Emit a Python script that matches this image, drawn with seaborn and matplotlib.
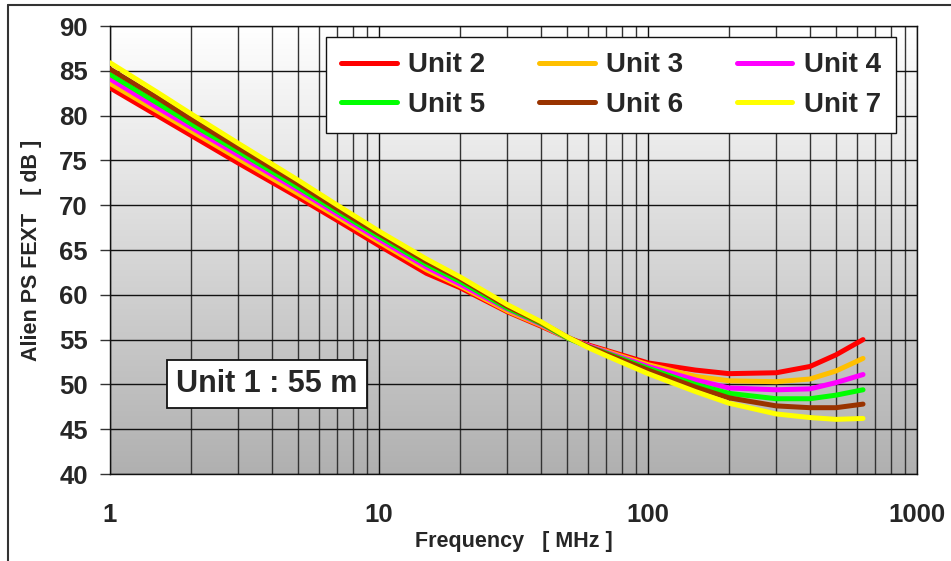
import numpy as np
import pandas as pd
import matplotlib
matplotlib.use("Agg")
import matplotlib.pyplot as plt
import seaborn as sns
from matplotlib.ticker import LogLocator, FixedLocator, NullFormatter
from matplotlib.lines import Line2D
from matplotlib.colors import LinearSegmentedColormap

# ---- data ----
freq = [1, 1.5, 2, 3, 5, 7, 10, 15, 20, 30, 40, 50, 60, 70, 100, 150, 200, 300, 400, 500, 630]
unit2 = [83.1, 80.0, 77.8, 74.7, 70.9, 68.3, 65.5, 62.4, 60.8, 58.1, 56.5, 55.2, 54.4, 53.8, 52.4, 51.6, 51.2, 51.3, 52.0, 53.3, 55.0]
unit3 = [83.6, 80.5, 78.3, 75.2, 71.3, 68.7, 65.9, 62.8, 61.0, 58.2, 56.6, 55.2, 54.3, 53.7, 52.2, 50.9, 50.4, 50.3, 50.6, 51.5, 52.9]
unit4 = [84.1, 80.9, 78.7, 75.6, 71.7, 69.0, 66.2, 63.1, 61.2, 58.4, 56.7, 55.2, 54.3, 53.6, 52.0, 50.5, 49.6, 49.4, 49.5, 50.2, 51.1]
unit5 = [84.6, 81.4, 79.1, 76.0, 72.0, 69.3, 66.5, 63.4, 61.5, 58.5, 56.8, 55.2, 54.2, 53.5, 51.8, 50.0, 49.0, 48.4, 48.4, 48.8, 49.4]
unit6 = [85.2, 82.0, 79.6, 76.4, 72.4, 69.6, 66.8, 63.7, 61.8, 58.7, 56.9, 55.3, 54.2, 53.4, 51.6, 49.7, 48.5, 47.6, 47.4, 47.4, 47.8]
unit7 = [85.9, 82.6, 80.2, 76.9, 72.8, 70.0, 67.1, 64.0, 62.0, 58.9, 57.0, 55.3, 54.1, 53.2, 51.2, 49.2, 47.9, 46.7, 46.3, 46.1, 46.2]
series_names = ["Unit 2", "Unit 3", "Unit 4", "Unit 5", "Unit 6", "Unit 7"]
series_values = [unit2, unit3, unit4, unit5, unit6, unit7]
colors = ["#ff0000", "#ffc000", "#ff00ff", "#00ff00", "#993300", "#ffff00"]
y_ticks = [40, 45, 50, 55, 60, 65, 70, 75, 80, 85, 90]
x_ticks = [1, 10, 100, 1000]
x_ticklabels = ["1", "10", "100", "1000"]
annotation = "Unit 1 : 55 m"
xlabel = "Frequency   [ MHz ]"
ylabel = "Alien PS FEXT   [ dB ]"

df = pd.concat([pd.DataFrame({"freq": freq, "value": v, "unit": n})
                for n, v in zip(series_names, series_values)], ignore_index=True)

sns.set_theme(style="white")
plt.rcParams['font.family'] = ['Liberation Sans', 'DejaVu Sans']
plt.rcParams['font.weight'] = 'bold'

W, H = 951, 561
fig = plt.figure(figsize=(W / 100, H / 100), dpi=100)
fig.patch.set_facecolor("white")

L, R, T, B = 110, 917, 26, 474
pos = [L / W, 1 - B / H, (R - L) / W, (B - T) / H]

# gradient background axes
bg = fig.add_axes(pos, zorder=0)
cmap = LinearSegmentedColormap.from_list("g", ["#ffffff", "#b0b0b0"])
bg.imshow(np.linspace(0, 1, 256).reshape(-1, 1), aspect="auto", cmap=cmap,
          extent=[0, 1, 0, 1], origin="upper")
bg.set_axis_off()

ax = fig.add_axes(pos, zorder=1)
ax.patch.set_alpha(0)

sns.lineplot(data=df, x="freq", y="value", hue="unit", palette=colors,
             hue_order=series_names, linewidth=3.6, ax=ax, legend=False,
             zorder=3)

ax.set_xscale("log")
ax.set_xlim(1, 1000)
ax.set_ylim(40, 90)
ax.xaxis.set_major_locator(FixedLocator(x_ticks))
ax.set_xticklabels(x_ticklabels)
ax.xaxis.set_minor_locator(LogLocator(base=10, subs=np.arange(2, 10)))
ax.xaxis.set_minor_formatter(NullFormatter())
ax.set_yticks(y_ticks)

ax.grid(True, which="major", axis="both", color="#111111", linewidth=1.0, zorder=1)
ax.grid(True, which="minor", axis="x", color="#333333", linewidth=1.0, zorder=1)
ax.set_axisbelow(True)

for s in ax.spines.values():
    s.set_color("#111111")
    s.set_linewidth(1.0)

ax.tick_params(axis="x", which="major", direction="out", length=8, width=1,
               color="#333333", pad=13, labelsize=18.5)
ax.tick_params(axis="x", which="minor", length=0)
ax.tick_params(axis="y", which="major", direction="out", length=7, width=1,
               color="#333333", pad=9, labelsize=18.5, left=True)
for lab in ax.get_xticklabels() + ax.get_yticklabels():
    lab.set_fontweight("bold")

ax.set_xlabel(xlabel, fontsize=15.5, fontweight="bold", labelpad=3)
ax.set_ylabel(ylabel, fontsize=15.5, fontweight="bold", labelpad=12)

# legend filled row by row (matplotlib fills column by column)
ncol = 3
order = [i + r * ncol for i in range(ncol) for r in range(2)]
handles = [Line2D([0], [0], color=colors[i], lw=3.6) for i in order]
labels = [series_names[i] for i in order]
leg = ax.legend(handles, labels, ncol=ncol, loc="upper right",
                bbox_to_anchor=((896 - L) / (R - L), (B - 37) / (B - T)),
                borderaxespad=0, frameon=True, fancybox=False,
                prop={"weight": "bold", "size": 20}, handlelength=2.0,
                handletextpad=0.4, columnspacing=1.95, labelspacing=0.5,
                borderpad=0.55)
leg.get_frame().set_edgecolor("#111111")
leg.get_frame().set_linewidth(1.0)
leg.get_frame().set_alpha(1)
leg.set_zorder(5)

ax.text((267 - L) / (R - L), (B - 384) / (B - T), annotation,
        transform=ax.transAxes, ha="center", va="center", fontsize=22,
        fontweight="bold", zorder=6,
        bbox=dict(boxstyle="square,pad=0.3", facecolor="white",
                  edgecolor="#111111", linewidth=1.3))

# outer frame (top and left edges visible)
fig.add_artist(Line2D([8 / W, 1], [1 - 5 / H, 1 - 5 / H], color="#333333", lw=1.5))
fig.add_artist(Line2D([8 / W, 8 / W], [0, 1 - 5 / H], color="#333333", lw=1.5))

fig.savefig("out.png", dpi=100)
